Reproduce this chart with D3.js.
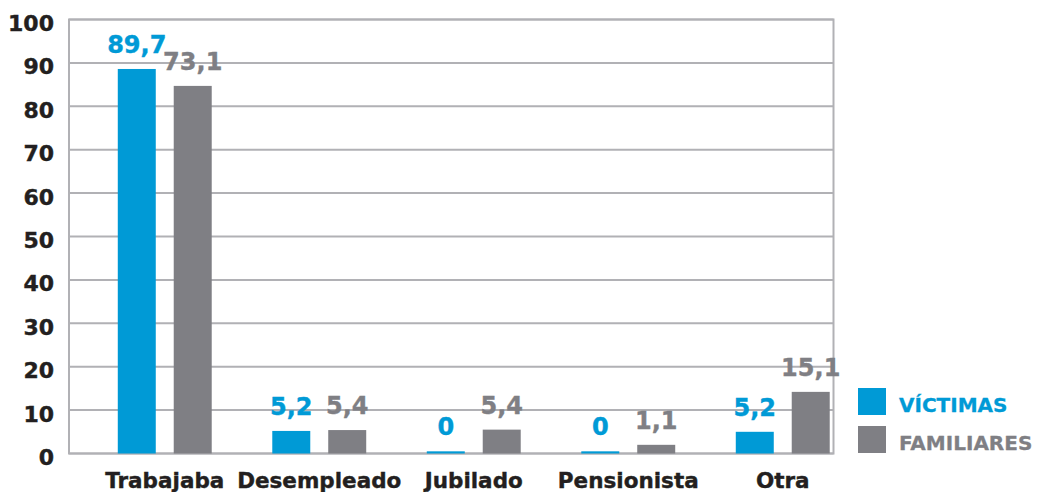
<!DOCTYPE html>
<html>
<head>
<meta charset="utf-8">
<script src="https://cdn.jsdelivr.net/npm/d3@7"></script>
<style>
  body { margin: 0; background: #fff; }
  text { font-family: 'DejaVu Sans', Verdana, sans-serif; font-weight: bold; }
</style>
</head>
<body>
<svg width="1041" height="492"></svg>
<script>
const categories = ['Trabajaba', 'Desempleado', 'Jubilado', 'Pensionista', 'Otra']
const series = ['VÍCTIMAS', 'FAMILIARES']
// bar heights as drawn in the picture
const victimas = [88.6, 5.2, 0.5, 0.5, 5.0]
const familiares = [84.7, 5.4, 5.5, 2.0, 14.2]
// value labels as printed
const victimasLabels = ['89,7', '5,2', '0', '0', '5,2']
const familiaresLabels = ['73,1', '5,4', '5,4', '1,1', '15,1']
const yTicks = [0, 10, 20, 30, 40, 50, 60, 70, 80, 90, 100]

const colors = { 'VÍCTIMAS': '#009ad6', 'FAMILIARES': '#7f7f84' }
const plot = { left: 69, right: 833.5, top: 19.5, bottom: 453.5 }

const svg = d3.select('svg')

const x = d3.scaleBand()
  .domain(categories)
  .range([87.5, 860])
  .paddingInner(0.392)
  .paddingOuter(0.196)
const x1 = d3.scaleBand()
  .domain(series)
  .range([0, x.bandwidth()])
  .paddingInner(0.321)
const y = d3.scaleLinear()
  .domain([0, 100])
  .range([plot.bottom, plot.top])

// gridlines + frame
const grid = svg.append('g')
grid.selectAll('line')
  .data(yTicks)
  .join('line')
  .attr('x1', plot.left)
  .attr('x2', plot.right)
  .attr('y1', d => y(d))
  .attr('y2', d => y(d))
  .attr('stroke', '#b1b1b5')
  .attr('stroke-width', 2)
grid.append('rect')
  .attr('x', plot.left)
  .attr('y', plot.top)
  .attr('width', plot.right - plot.left)
  .attr('height', plot.bottom - plot.top)
  .attr('fill', 'none')
  .attr('stroke', '#b1b1b5')
  .attr('stroke-width', 2)

// y axis labels
const yAxis = d3.axisLeft(y).tickValues(yTicks).tickSize(0).tickPadding(15)
svg.append('g')
  .attr('transform', `translate(${plot.left},0)`)
  .call(yAxis)
  .call(g => g.select('.domain').remove())
  .selectAll('text')
  .attr('font-size', 22)
  .attr('fill', '#231f20')
  .attr('stroke', '#231f20')
  .attr('stroke-width', 0.4)
  .attr('dy', '0.5em')

// x axis labels
svg.append('g')
  .selectAll('text')
  .data(categories)
  .join('text')
  .attr('x', d => x(d) + x.bandwidth() / 2)
  .attr('y', 488)
  .attr('text-anchor', 'middle')
  .attr('font-size', 21.5)
  .attr('fill', '#231f20')
  .attr('stroke', '#231f20')
  .attr('stroke-width', 0.4)
  .text(d => d)

const rows = categories.map((c, i) => ({
  cat: c,
  vals: [
    { key: series[0], value: victimas[i], label: victimasLabels[i] },
    { key: series[1], value: familiares[i], label: familiaresLabels[i] }
  ]
}))

const groups = svg.append('g')
  .selectAll('g')
  .data(rows)
  .join('g')
  .attr('transform', d => `translate(${x(d.cat)},0)`)

groups.selectAll('rect')
  .data(d => d.vals)
  .join('rect')
  .attr('x', d => x1(d.key))
  .attr('width', x1.bandwidth())
  .attr('y', d => y(d.value))
  .attr('height', d => y(0) - y(d.value))
  .attr('fill', d => colors[d.key])

groups.selectAll('text')
  .data(d => d.vals)
  .join('text')
  .attr('x', d => x1(d.key) + x1.bandwidth() / 2)
  .attr('y', d => y(d.value) - 16)
  .attr('text-anchor', 'middle')
  .attr('font-size', 24)
  .attr('fill', d => colors[d.key])
  .attr('stroke', d => colors[d.key])
  .attr('stroke-width', 0.4)
  .text(d => d.label)

// legend
const legend = svg.append('g')
  .attr('transform', 'translate(858,388)')
  .selectAll('g')
  .data(series)
  .join('g')
  .attr('transform', (d, i) => `translate(0,${i * 38})`)
legend.append('rect')
  .attr('width', 28)
  .attr('height', 27)
  .attr('fill', d => colors[d])
legend.append('text')
  .attr('x', 41)
  .attr('y', 24)
  .attr('font-size', 20)
  .attr('fill', d => colors[d])
  .attr('stroke', d => colors[d])
  .attr('stroke-width', 0.3)
  .text(d => d)
</script>
</body>
</html>
